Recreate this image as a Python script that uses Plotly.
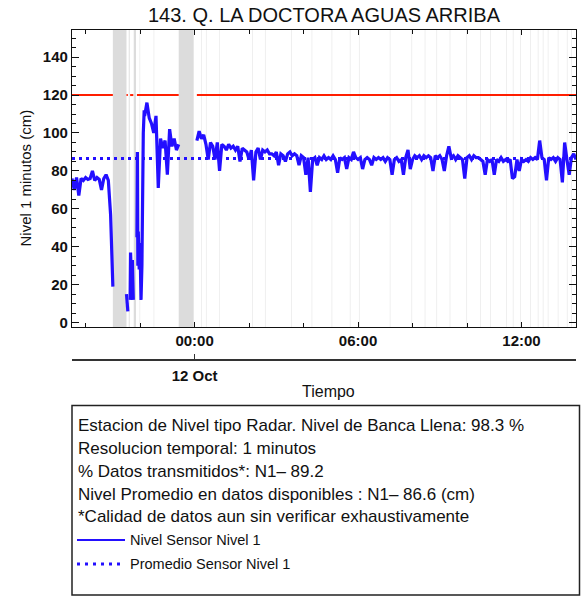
import datetime as dt
import plotly.graph_objects as go

# ---------------- data ----------------
TITLE = "143. Q. LA DOCTORA AGUAS ARRIBA"
BANCA_LLENA = 120.0          # cm
PROMEDIO = 86.6              # cm
X_START = "2024-10-11 19:30"
X_END = "2024-10-12 14:00"

# segment 1: 5-minute readings from 19:30
seg1_start = "2024-10-11 19:30"
seg1_vals = [76, 70, 76.5, 67, 76, 75, 76.5, 75.5, 76, 80, 75, 76.5, 75.5, 70, 76, 78, 75, 57, 19]

# irregular readings during the disturbance (None = no data)
low_times = ["2024-10-11 21:30", "2024-10-11 21:33", "2024-10-11 21:35", "2024-10-11 21:38",
             "2024-10-11 21:39", "2024-10-11 21:41", "2024-10-11 21:43", "2024-10-11 21:45",
             "2024-10-11 21:48", "2024-10-11 21:53", "2024-10-11 21:54", "2024-10-11 21:55",
             "2024-10-11 21:56", "2024-10-11 21:58", "2024-10-11 22:00", "2024-10-11 22:01",
             "2024-10-11 22:02", "2024-10-11 22:04", "2024-10-11 22:05", "2024-10-11 22:07",
             "2024-10-11 22:09"]
low_vals = [15, 6, None, 12, 37, 22, 33, 12, None, 45, 90, 30, 48, 28, 42, 25, 12, 30, 60, 100, 112]

# segment 3: 5-minute readings from 22:10
seg3_start = "2024-10-11 22:10"
seg3_vals = [109, 116, 108, 105, 100, 109, 71, 97, 92, 96, 78, 102, 93, 97, 91, 94]

# segment 4: 5-minute readings from 00:05
seg4_start = "2024-10-12 00:05"
seg4_vals = [
    96, 101, 97, 99,
    94, 86, 95, 93, 86, 95, 80, 94,
    93, 91, 94, 92, 93, 91, 93, 85, 92,
    91, 90, 86, 91, 75, 90, 92, 86, 91, 90, 91, 89,
    89, 88, 90, 83, 89, 88, 85, 89, 90, 88, 89, 88, 83, 88,
    87, 78, 87, 69, 86, 87, 83, 87, 86, 88, 86, 87,
    86, 88, 86, 79, 87, 86, 87, 81, 87, 86, 90, 87,
    86, 87, 81, 86, 87, 86, 83, 87, 86, 87, 86,
    87, 85, 87, 86, 78, 86, 87, 85, 86, 78, 87, 91, 81, 86,
    88, 87, 88, 86, 88, 87, 88, 87, 80, 88, 87,
    88, 86, 80, 88, 93, 87, 88, 86, 88, 87, 86, 76,
    87, 88, 86, 88, 87, 87,
    86, 85, 78, 86, 85, 86,
    78, 86, 85, 87, 85, 86, 85, 86, 76, 77, 86, 80,
    86, 85, 86, 85,
    87, 86, 87, 86, 96, 87, 86, 75, 87, 86, 87, 85, 87, 86, 74, 95, 86, 78, 87, 89, 86,
]

# missing-data intervals (grey bands)
gap_starts = ["2024-10-11 21:00", "2024-10-11 21:29", "2024-10-11 21:35", "2024-10-11 21:46",
              "2024-10-11 21:59", "2024-10-11 22:30", "2024-10-11 23:25",
              "2024-10-12 00:15", "2024-10-12 00:25", "2024-10-12 00:55", "2024-10-12 02:07",
              "2024-10-12 02:35", "2024-10-12 03:33", "2024-10-12 04:18", "2024-10-12 05:02",
              "2024-10-12 05:42", "2024-10-12 06:02", "2024-10-12 07:10", "2024-10-12 07:58",
              "2024-10-12 08:27", "2024-10-12 08:53", "2024-10-12 09:22", "2024-10-12 09:59",
              "2024-10-12 10:29", "2024-10-12 10:51", "2024-10-12 11:27", "2024-10-12 11:41",
              "2024-10-12 11:57", "2024-10-12 12:19", "2024-10-12 12:36", "2024-10-12 12:47",
              "2024-10-12 12:58", "2024-10-12 13:20", "2024-10-12 13:40", "2024-10-12 13:50"]
gap_minutes = [29, 1, 2, 5, 1, 1, 33] + [1] * 28

info_lines = [
    "Estacion de Nivel tipo Radar. Nivel de Banca Llena: 98.3 %",
    "Resolucion temporal: 1 minutos",
    "% Datos transmitidos*: N1\u2013 89.2",
    "Nivel Promedio en datos disponibles : N1\u2013 86.6 (cm)",
    "*Calidad de datos aun sin verificar exhaustivamente",
]
legend_names = ["Nivel Sensor Nivel 1", "Promedio Sensor Nivel 1"]

# ---------------- build series ----------------
FMT = "%Y-%m-%d %H:%M"


def parse(s):
    return dt.datetime.strptime(s, FMT)


def regular(start, vals, step=5):
    t0 = parse(start)
    return [t0 + dt.timedelta(minutes=step * i) for i in range(len(vals))], list(vals)


x, y = [], []
t1, v1 = regular(seg1_start, seg1_vals)
x += t1; y += v1
x.append(parse(seg1_start) + dt.timedelta(minutes=92)); y.append(None)
x += [parse(s) for s in low_times]; y += low_vals
t3, v3 = regular(seg3_start, seg3_vals)
x += t3; y += v3
x.append(parse("2024-10-11 23:45")); y.append(None)
t4, v4 = regular(seg4_start, seg4_vals)
x += t4; y += v4

red_y = [None if v is None else BANCA_LLENA for v in y]

BLUE = "rgb(35,15,255)"
RED = "rgb(255,30,0)"
FONT = "Liberation Sans, Arial, sans-serif"

fig = go.Figure()
fig.add_trace(go.Scatter(x=x, y=red_y, mode="lines", line=dict(color=RED, width=2),
                         showlegend=False, hoverinfo="skip"))
fig.add_trace(go.Scatter(x=[parse(X_START), parse(X_END)], y=[PROMEDIO, PROMEDIO], mode="lines",
                         line=dict(color=BLUE, width=3, dash="3px,4px"),
                         name=legend_names[1], showlegend=False))
fig.add_trace(go.Scatter(x=x, y=y, mode="lines", line=dict(color=BLUE, width=3.2),
                         name=legend_names[0], showlegend=False, connectgaps=False))
# helper trace for the date axis
fig.add_trace(go.Scatter(x=[parse(X_START), parse(X_END)], y=[None, None], xaxis="x2",
                         mode="lines", showlegend=False, hoverinfo="skip"))

# ---------------- layout geometry ----------------
W, H = 581, 596
PL, PR, PT, PB = 72, 576, 30, 360


def px_x(p):
    return (p - PL) / (PR - PL)


def px_y(p):
    return (PB - p) / (PB - PT)


shapes = []
for s, m in zip(gap_starts, gap_minutes):
    t0 = parse(s)
    shapes.append(dict(type="rect", xref="x", yref="y domain", x0=t0,
                       x1=t0 + dt.timedelta(minutes=m), y0=0, y1=1,
                       fillcolor="#dcdcdc", line=dict(width=0), layer="below"))

# info box
shapes.append(dict(type="rect", xref="paper", yref="paper", x0=px_x(72), x1=px_x(579.5),
                   y0=px_y(595), y1=px_y(405.5), line=dict(color="#222", width=1.5)))
# legend samples
shapes.append(dict(type="line", xref="paper", yref="paper", x0=px_x(77), x1=px_x(125),
                   y0=px_y(540), y1=px_y(540), line=dict(color=BLUE, width=2)))
shapes.append(dict(type="line", xref="paper", yref="paper", x0=px_x(77), x1=px_x(125),
                   y0=px_y(564), y1=px_y(564), line=dict(color=BLUE, width=3, dash="3px,5px")))

annotations = []
info_y = [425.7, 448.5, 471.3, 494.1, 516.9]
for txt, yy in zip(info_lines, info_y):
    annotations.append(dict(text=txt, xref="paper", yref="paper", x=px_x(76), y=px_y(yy),
                            xanchor="left", yanchor="middle", showarrow=False,
                            font=dict(family=FONT, size=17, color="#111")))
for txt, yy in zip(legend_names, [540, 564]):
    annotations.append(dict(text=txt, xref="paper", yref="paper", x=px_x(128), y=px_y(yy),
                            xanchor="left", yanchor="middle", showarrow=False,
                            font=dict(family=FONT, size=14.5, color="#111")))
annotations.append(dict(text="Tiempo", xref="paper", yref="paper", x=px_x(328), y=px_y(391),
                        xanchor="center", yanchor="middle", showarrow=False,
                        font=dict(family=FONT, size=16, color="#111")))
annotations.append(dict(text="Nivel 1 minutos (cm)", xref="paper", yref="paper", x=px_x(25),
                        y=px_y(178.5), xanchor="center", yanchor="middle", textangle=-90,
                        showarrow=False, font=dict(family=FONT, size=15, color="#111")))

tickfont = dict(family=FONT, size=15, color="#111", weight="bold")
H6 = 6 * 3600 * 1000
H2 = 2 * 3600 * 1000

fig.update_layout(
    width=W, height=H,
    margin=dict(l=PL, r=W - PR, t=PT, b=H - PB, pad=0, autoexpand=False),
    paper_bgcolor="white", plot_bgcolor="white",
    title=dict(text=TITLE, x=px_x(324), xref="paper", xanchor="center", y=1 - 15 / H,
               yanchor="middle", font=dict(family=FONT, size=20, color="#111")),
    xaxis=dict(type="date", range=[parse(X_START), parse(X_END)], anchor="y", automargin=False,
               showline=True, linecolor="#111", linewidth=1.2, mirror="ticks",
               ticks="inside", ticklen=5, tickcolor="#111", tickwidth=1.2,
               dtick=H6, tick0="2024-10-12 00:00", tickformat="%H:%M", tickfont=tickfont,
               showgrid=False, zeroline=False,
               minor=dict(dtick=H2, tick0="2024-10-12 00:00", ticks="inside", ticklen=4,
                          tickcolor="#111", showgrid=False)),
    xaxis2=dict(type="date", range=[parse(X_START), parse(X_END)], overlaying="x",
                anchor="free", position=0, side="bottom", showline=True, linecolor="#333",
                linewidth=2, ticks="inside", ticklen=5, tickcolor="#333", tickwidth=1.2,
                tickvals=[parse("2024-10-12 00:00")], ticktext=["12 Oct"], tickfont=tickfont,
                ticklabelstandoff=2, automargin=False,
                showgrid=False, zeroline=False),
    yaxis=dict(domain=[(PB - 327) / (PB - PT), 1], range=[-2.3, 154.3], automargin=False,
               showline=True, linecolor="#111", linewidth=1.2, mirror="ticks",
               ticks="inside", ticklen=7, tickcolor="#111", tickwidth=1.2,
               tickvals=[0, 20, 40, 60, 80, 100, 120, 140], tickfont=tickfont,
               showgrid=False, zeroline=False,
               minor=dict(dtick=5, ticks="inside", ticklen=4, tickcolor="#111", showgrid=False)),
    shapes=shapes,
    annotations=annotations,
    showlegend=False,
)

fig.write_html("out.html", config={"displayModeBar": False},
               post_script="document.body.style.margin='0';document.body.style.overflow='hidden';")
